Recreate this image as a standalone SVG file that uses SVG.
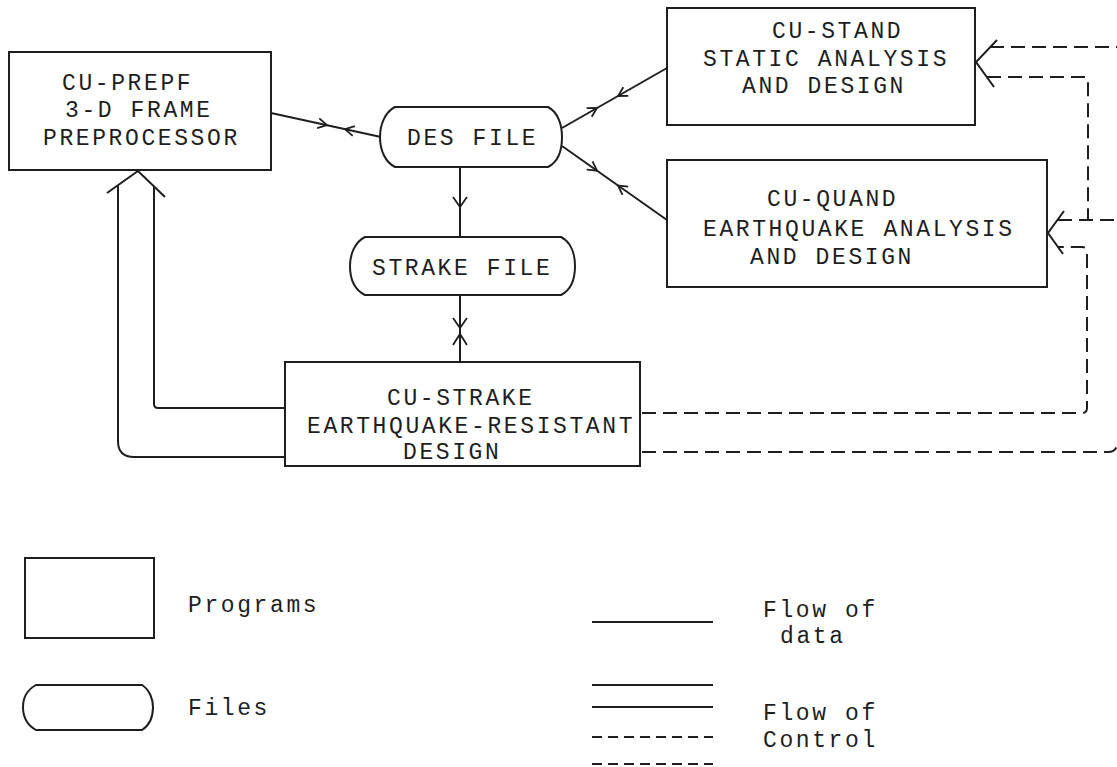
<svg xmlns="http://www.w3.org/2000/svg" width="1117" height="767" viewBox="0 0 1117 767">
<style>
.bg{fill:#ffffff}
.box{fill:none;stroke:#1e1e1e;stroke-width:2}
.ln{fill:none;stroke:#1e1e1e;stroke-width:2}
.ah{fill:none;stroke:#1e1e1e;stroke-width:1.8;stroke-linejoin:miter}
.dash{fill:none;stroke:#1e1e1e;stroke-width:2;stroke-dasharray:14 7}
.t{font-family:"Liberation Mono","DejaVu Sans Mono",monospace;font-size:23px;letter-spacing:2.6px;fill:#1e1e1e}
</style>
<rect class="bg" x="0" y="0" width="1117" height="767"/>

<g id="cu-prepf">
<rect class="box" x="9" y="52" width="262" height="118"/>
<text class="t" x="62" y="90">CU-PREPF</text>
<text class="t" x="65" y="117">3-D FRAME</text>
<text class="t" x="43" y="145">PREPROCESSOR</text>
</g>

<g id="des-file">
<path class="box" d="M395,107 H548 C558,112 562,125 562,137 C562,150 558,162 548,167 H395 C385,162 380,150 380,137 C380,125 385,112 395,107 Z"/>
<text class="t" x="407" y="145">DES FILE</text>
</g>

<g id="strake-file">
<path class="box" d="M365,237 H561 C571,242 575,254 575,266 C575,279 571,290 561,295 H365 C355,290 350,279 350,266 C350,254 355,242 365,237 Z"/>
<text class="t" x="372" y="275">STRAKE FILE</text>
</g>

<g id="cu-stand">
<rect class="box" x="667" y="8" width="308" height="117"/>
<text class="t" x="772" y="38">CU-STAND</text>
<text class="t" x="703" y="66">STATIC ANALYSIS</text>
<text class="t" x="742" y="93">AND DESIGN</text>
</g>

<g id="cu-quand">
<rect class="box" x="667" y="160" width="380" height="127"/>
<text class="t" x="767" y="206">CU-QUAND</text>
<text class="t" x="703" y="236">EARTHQUAKE ANALYSIS</text>
<text class="t" x="750" y="264">AND DESIGN</text>
</g>

<g id="cu-strake">
<rect class="box" x="285" y="362" width="355" height="104"/>
<text class="t" x="387" y="405">CU-STRAKE</text>
<text class="t" x="307" y="433">EARTHQUAKE-RESISTANT</text>
<text class="t" x="403" y="459">DESIGN</text>
</g>

<g id="connectors">
<!-- data flow -->
<line class="ln" x1="271" y1="113" x2="381" y2="137"/>
<path class="ah" d="M319.3,118.4 L327,125.2 L317.1,128.2"/>
<path class="ah" d="M354.9,126.1 L345,129.1 L352.7,135.9"/>

<line class="ln" x1="562" y1="128" x2="667" y2="68"/>
<path class="ah" d="M586.7,108.2 L597,108 L591.7,116.8"/>
<path class="ah" d="M628.3,95.8 L618,96 L623.3,87.2"/>

<line class="ln" x1="562" y1="146" x2="667" y2="220"/>
<path class="ah" d="M586.7,169.6 L597,170.7 L592.5,161.4"/>
<path class="ah" d="M622.5,194.8 L618,185.5 L628.3,186.6"/>

<line class="ln" x1="460" y1="167" x2="460" y2="237"/>
<path class="ah" d="M453,197 L460,207 L467,197"/>

<line class="ln" x1="460" y1="295" x2="460" y2="362"/>
<path class="ah" d="M453,318 L460,328 L467,318"/>
<path class="ah" d="M453,345 L460,334 L467,345"/>

<!-- control flow, solid double -->
<path class="ln" d="M285,408 H158 Q154,408 154,404 V187"/>
<path class="ln" d="M285,457 H134 Q118,457 118,441 V186"/>
<path class="ln" d="M107,193 L138,171 L165,197"/>

<!-- control flow, dashed double -->
<path class="ln" d="M997,40 L976,62 L994,87"/>
<path class="dash" d="M990,47 H1117"/>
<path class="dash" d="M987,77 H1085 Q1088,77 1088,80 V220"/>
<path class="ln" d="M1064,211 L1048,233 L1063,254"/>
<path class="dash" d="M1058,220 H1117"/>
<path class="dash" d="M642,413 H1082 Q1087,413 1087,408 V252 Q1087,247 1082,247 H1058"/>
<path class="dash" d="M642,452 H1108 Q1117,452 1117,443"/>
</g>

<g id="legend">
<rect class="box" x="25" y="558" width="129" height="80"/>
<text class="t" x="188" y="612">Programs</text>
<path class="box" d="M36,685 H142 C150,690 153,700 153,707 C153,716 150,725 142,730 H36 C27,725 23,716 23,707 C23,698 27,690 36,685 Z"/>
<text class="t" x="188" y="715">Files</text>
<line class="ln" x1="592" y1="622" x2="713" y2="622"/>
<text class="t" x="763" y="617">Flow of</text>
<text class="t" x="780" y="643">data</text>
<line class="ln" x1="592" y1="685" x2="713" y2="685"/>
<line class="ln" x1="592" y1="707" x2="713" y2="707"/>
<line class="dash" x1="592" y1="737" x2="713" y2="737" style="stroke-dasharray:10 6"/>
<line class="dash" x1="592" y1="764" x2="713" y2="764" style="stroke-dasharray:10 6"/>
<text class="t" x="763" y="720">Flow of</text>
<text class="t" x="763" y="747">Control</text>
</g>
</svg>
